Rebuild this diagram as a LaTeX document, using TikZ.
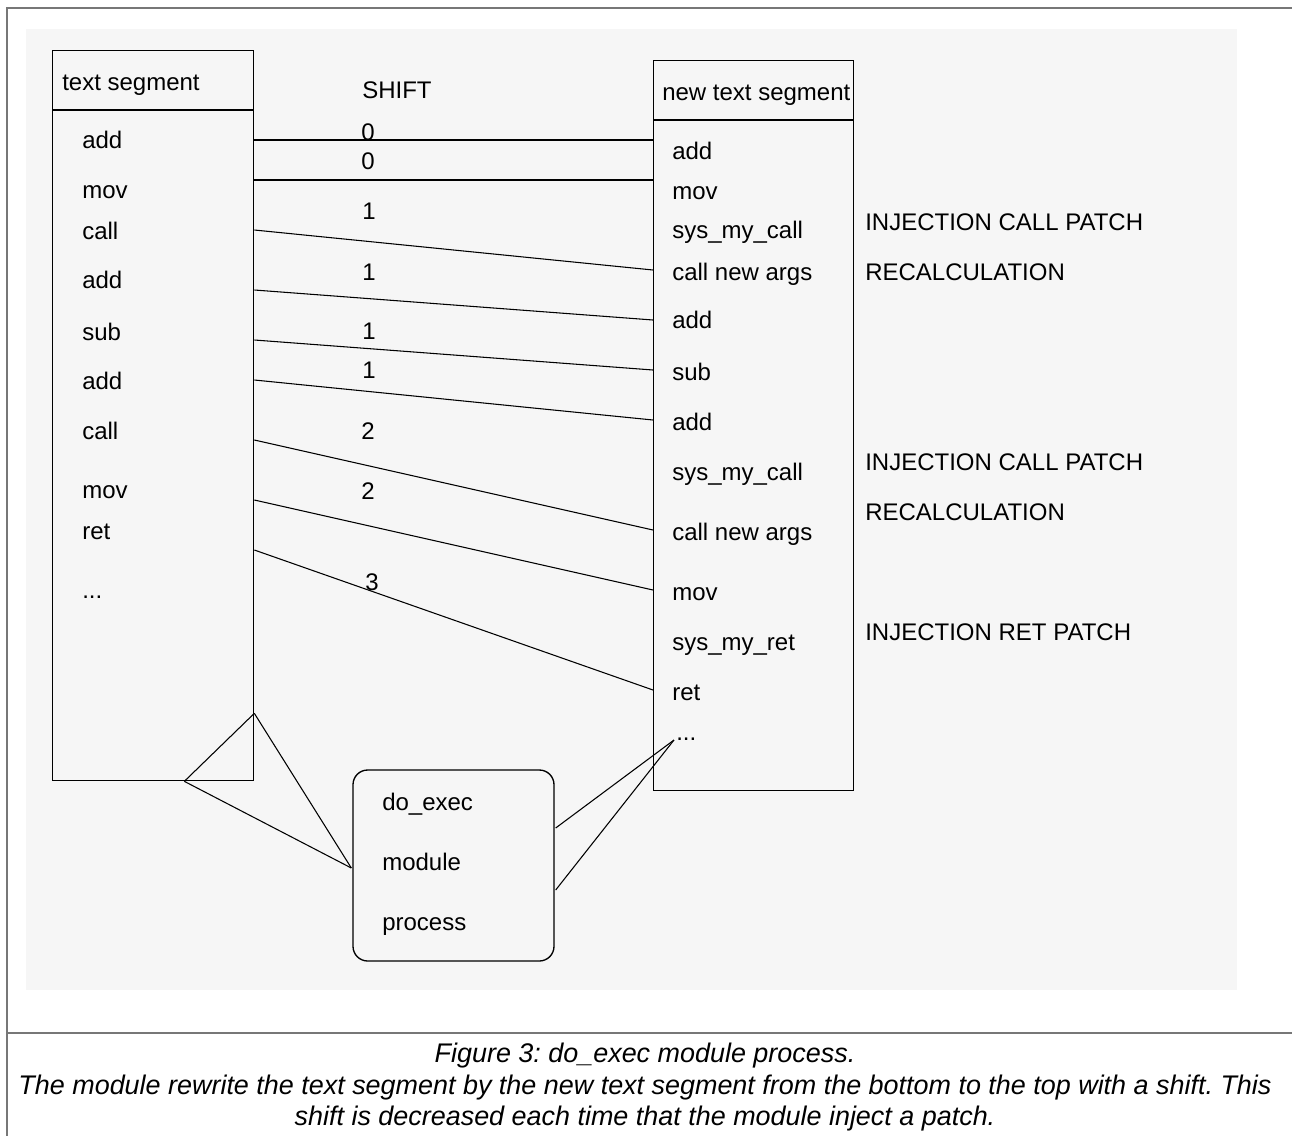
\documentclass[tikz,border=0pt]{standalone}
\usepackage{fontspec}
\setmainfont{Liberation Sans}
\definecolor{bgfill}{HTML}{F6F6F6}
\definecolor{framegray}{HTML}{777777}
\begin{document}
\frenchspacing
\begin{tikzpicture}[x=0.75pt,y=-0.75pt,
  box/.style={draw=black, line width=1pt, inner sep=0pt, anchor=north west},
  lbl/.style={anchor=base west, inner sep=0pt, font=\fontsize{18}{20}\selectfont},
  num/.style={anchor=base, inner sep=0pt, font=\fontsize{18}{20}\selectfont},
  conn/.style={draw=black, line width=0.8pt},
  frameline/.style={draw=framegray, line width=1.6pt},
  captext/.style={anchor=base, inner sep=0pt, font=\fontsize{20.2}{24}\selectfont\itshape}]
\useasboundingbox (0,0) rectangle (1292,1136);
\fill[white] (0,0) rectangle (1292,1136);
\draw[frameline] (1292,8) -- (7,8) -- (7,1136);
\draw[frameline] (7,1033) -- (1292,1033);
\fill[bgfill] (26,29) rectangle (1237,990);

% boxes
\node[box, minimum width=150.75pt, minimum height=547.5pt] (L) at (52,50) {};
\node[box, minimum width=150pt, minimum height=547.5pt] (R) at (653,60) {};
\node[draw=black, line width=1pt, rounded corners=11pt, minimum width=150.75pt, minimum height=143.25pt, inner sep=0pt] (M) at (453.5,865.5) {};
\draw[line width=1pt] ([shift={(0,60)}]L.north west) -- ([shift={(0,60)}]L.north east);
\draw[line width=1pt] ([shift={(0,60)}]R.north west) -- ([shift={(0,60)}]R.north east);

% headers
\node[lbl] (lh) at (62,90) {text segment};
\node[lbl] (rh) at (662,100) {new text segment};

% left items
\node[lbl] (l1) at (82,148) {add};
\node[lbl] (l2) at (82,198) {mov};
\node[lbl] (l3) at (82,239) {call};
\node[lbl] (l4) at (82,288) {add};
\node[lbl] (l5) at (82,340) {sub};
\node[lbl] (l6) at (82,389) {add};
\node[lbl] (l7) at (82,439) {call};
\node[lbl] (l8) at (82,498) {mov};
\node[lbl] (l9) at (82,539) {ret};
\node[lbl] (l10) at (82,598) {...};

% right items
\node[lbl] (r1) at (672,159) {add};
\node[lbl] (r2) at (672,199) {mov};
\node[lbl] (r3) at (672,238) {sys\_my\_call};
\node[lbl] (r4) at (672,280) {call new args};
\node[lbl] (r5) at (672,328) {add};
\node[lbl] (r6) at (672,380) {sub};
\node[lbl] (r7) at (672,430) {add};
\node[lbl] (r8) at (672,480) {sys\_my\_call};
\node[lbl] (r9) at (672,540) {call new args};
\node[lbl] (r10) at (672,600) {mov};
\node[lbl] (r11) at (672,650) {sys\_my\_ret};
\node[lbl] (r12) at (672,700) {ret};
\node[lbl] (r13) at (676,740) {...};

% annotations
\node[lbl] (a1) at (865,230) {INJECTION CALL PATCH};
\node[lbl] (a2) at (865,280) {RECALCULATION};
\node[lbl] (a3) at (865,470) {INJECTION CALL PATCH};
\node[lbl] (a4) at (865,520) {RECALCULATION};
\node[lbl] (a5) at (865,640) {INJECTION RET PATCH};

% shift column
\node[lbl] (sh) at (362,98) {SHIFT};
\node[num] (n1) at (368,140) {0};
\node[num] (n2) at (368,169) {0};
\node[num] (n3) at (369,219) {1};
\node[num] (n4) at (369,280) {1};
\node[num] (n5) at (369,339) {1};
\node[num] (n6) at (369,378) {1};
\node[num] (n7) at (368,439) {2};
\node[num] (n8) at (368,499) {2};
\node[num] (n9) at (372,590) {3};

% module text
\node[lbl] (m1) at (382,810) {do\_exec};
\node[lbl] (m2) at (382,870) {module};
\node[lbl] (m3) at (382,930) {process};

% connectors between segments
\draw[conn] ([shift={(0,90)}]L.north east) -- ([shift={(0,80)}]R.north west);
\draw[conn] ([shift={(0,130)}]L.north east) -- ([shift={(0,120)}]R.north west);
\draw[conn] ([shift={(0,180)}]L.north east) -- ([shift={(0,210)}]R.north west);
\draw[conn] ([shift={(0,240)}]L.north east) -- ([shift={(0,260)}]R.north west);
\draw[conn] ([shift={(0,290)}]L.north east) -- ([shift={(0,310)}]R.north west);
\draw[conn] ([shift={(0,330)}]L.north east) -- ([shift={(0,360)}]R.north west);
\draw[conn] ([shift={(0,390)}]L.north east) -- ([shift={(0,470)}]R.north west);
\draw[conn] ([shift={(0,450)}]L.north east) -- ([shift={(0,530)}]R.north west);
\draw[conn] ([shift={(0,500)}]L.north east) -- ([shift={(0,630)}]R.north west);

% triangle to module
\coordinate (A) at ([shift={(0,-68)}]L.south east);
\coordinate (B) at ([shift={(-70,0)}]L.south east);
\draw[conn] (A) -- (B);
\draw[conn] (A) -- ([shift={(-1,2.5)}]M.west);
\draw[conn] (B) -- ([shift={(-1,2.5)}]M.west);

% module to new segment
\coordinate (E) at ([shift={(-2,0)}]r13.base west);
\draw[conn] ([shift={(1,-37.5)}]M.east) -- (E);
\draw[conn] ([shift={(1,24.5)}]M.east) -- (E);

% caption
\node[captext] (c1) at (645,1062) {Figure 3: do\_exec module process.};
\node[captext] (c2) at (645,1094) {The module rewrite the text segment by the new text segment from the bottom to the top with a shift. This};
\node[captext] (c3) at (645,1125) {shift is decreased each time that the module inject a patch.};
\end{tikzpicture}
\end{document}
